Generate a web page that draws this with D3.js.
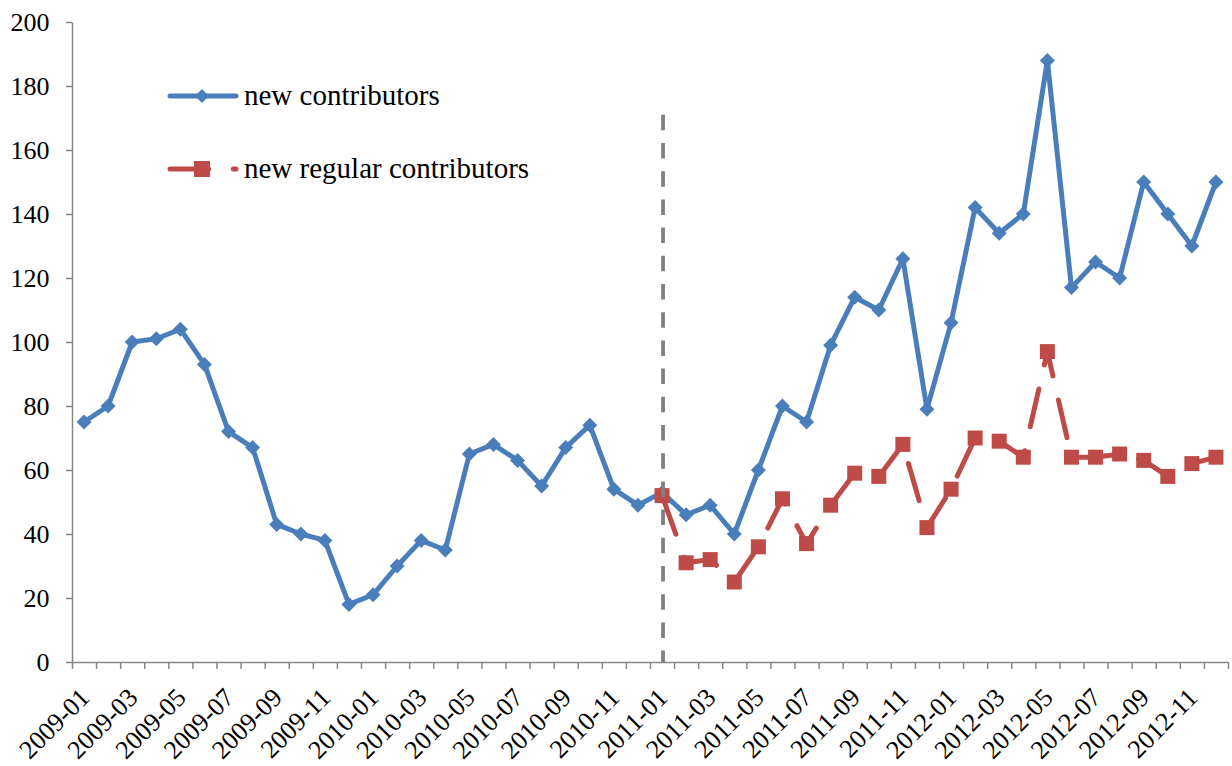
<!DOCTYPE html>
<html>
<head>
<meta charset="utf-8">
<script src="https://cdn.jsdelivr.net/npm/d3@7"></script>
<style>
  html, body { margin: 0; padding: 0; background: #ffffff; }
  svg { display: block; }
  svg text { font-family: "Liberation Serif", Tinos, "Times New Roman", "Nimbus Roman", "DejaVu Serif", serif; }
</style>
</head>
<body>
<svg id="chart" width="1232" height="766"></svg>
<script>
// Monthly categories, Jan 2009 through Dec 2012
const months = [
  "2009-01","2009-02","2009-03","2009-04","2009-05","2009-06","2009-07","2009-08","2009-09","2009-10","2009-11","2009-12",
  "2010-01","2010-02","2010-03","2010-04","2010-05","2010-06","2010-07","2010-08","2010-09","2010-10","2010-11","2010-12",
  "2011-01","2011-02","2011-03","2011-04","2011-05","2011-06","2011-07","2011-08","2011-09","2011-10","2011-11","2011-12",
  "2012-01","2012-02","2012-03","2012-04","2012-05","2012-06","2012-07","2012-08","2012-09","2012-10","2012-11","2012-12"
];

// New contributors per month (full period)
const newContributors = [
  75, 80, 100, 101, 104, 93, 72, 67, 43, 40, 38, 18,
  21, 30, 38, 35, 65, 68, 63, 55, 67, 74, 54, 49,
  53, 46, 49, 40, 60, 80, 75, 99, 114, 110, 126, 79,
  106, 142, 134, 140, 188, 117, 125, 120, 150, 140, 130, 150
];

// New regular contributors, tracked from 2011-01 onward
const regularMonths = [
  "2011-01","2011-02","2011-03","2011-04","2011-05","2011-06","2011-07","2011-08","2011-09","2011-10","2011-11","2011-12",
  "2012-01","2012-02","2012-03","2012-04","2012-05","2012-06","2012-07","2012-08","2012-09","2012-10","2012-11","2012-12"
];
const newRegularContributors = [
  52, 31, 32, 25, 36, 51, 37, 49, 59, 58, 68, 42,
  54, 70, 69, 64, 97, 64, 64, 65, 63, 58, 62, 64
];

// Axis ticks and labels
const yTicks = [0, 20, 40, 60, 80, 100, 120, 140, 160, 180, 200];
const xTickLabels = [
  "2009-01","2009-03","2009-05","2009-07","2009-09","2009-11",
  "2010-01","2010-03","2010-05","2010-07","2010-09","2010-11",
  "2011-01","2011-03","2011-05","2011-07","2011-09","2011-11",
  "2012-01","2012-03","2012-05","2012-07","2012-09","2012-11"
];

// Month for the vertical reference line and its top value
const markerMonth = "2011-01";
const markerTop = 171;

const seriesNames = ["new contributors", "new regular contributors"];

const BLUE = "#4A7EBB";
const RED = "#BE4B48";
const AXIS = "#868686";
const LONG_DASH = "38.6,24.7";

const svg = d3.select("#chart");

const plotLeft = 72, plotRight = 1228, plotTop = 22, plotBottom = 662;

const x = d3.scaleBand().domain(months).range([plotLeft, plotRight]).paddingInner(0).paddingOuter(0);
const cx = m => x(m) + x.bandwidth() / 2;
const y = d3.scaleLinear().domain([0, 200]).range([plotBottom, plotTop]);

// Y axis
const yAxis = svg.append("g")
  .attr("transform", `translate(${plotLeft},0)`)
  .call(d3.axisLeft(y).tickValues(yTicks).tickSize(6).tickPadding(16.5).tickSizeOuter(0));
yAxis.attr("font-family", null).attr("font-size", null);
yAxis.select(".domain").attr("stroke", AXIS).attr("stroke-width", 1.5);
yAxis.selectAll(".tick line").attr("stroke", AXIS).attr("stroke-width", 1.5);
yAxis.selectAll(".tick text")
  .attr("fill", "#000")
  .style("font-size", "26px");

// X axis: tick marks on category boundaries
const xb = d3.scaleLinear().domain([0, months.length]).range([plotLeft, plotRight]);
const xAxis = svg.append("g")
  .attr("transform", `translate(0,${plotBottom})`)
  .call(d3.axisBottom(xb).tickValues(d3.range(months.length + 1)).tickSize(7).tickSizeOuter(0).tickFormat(""));
xAxis.select(".domain").attr("stroke", AXIS).attr("stroke-width", 1.5);
xAxis.selectAll(".tick line").attr("stroke", AXIS).attr("stroke-width", 1.5);

// Rotated month labels, every other month
svg.append("g").selectAll("text")
  .data(xTickLabels)
  .join("text")
  .attr("transform", d => `translate(${cx(d) + 7},699) rotate(-45)`)
  .attr("text-anchor", "end")
  .attr("fill", "#000")
  .style("font-size", "26px")
  .text(d => d);

// New contributors line
const blueData = months.map((m, i) => ({ m, v: newContributors[i] }));
const line = d3.line().x(d => cx(d.m)).y(d => y(d.v));

svg.append("path")
  .datum(blueData)
  .attr("d", line)
  .attr("fill", "none")
  .attr("stroke", BLUE)
  .attr("stroke-width", 5)
  .attr("stroke-linejoin", "round")
  .attr("stroke-linecap", "round");

const diamond = (px, py, r) => `M${px},${py - r}L${px + r},${py}L${px},${py + r}L${px - r},${py}Z`;

svg.append("g").selectAll("path")
  .data(blueData)
  .join("path")
  .attr("d", d => diamond(cx(d.m), y(d.v), 7.5))
  .attr("fill", BLUE);

// New regular contributors line (long dashes running continuously along the path)
const redData = regularMonths.map((m, i) => ({ m, v: newRegularContributors[i] }));

svg.append("path")
  .datum(redData)
  .attr("d", line)
  .attr("fill", "none")
  .attr("stroke", RED)
  .attr("stroke-width", 5)
  .attr("stroke-dasharray", LONG_DASH)
  .attr("stroke-dashoffset", 61)
  .attr("stroke-linejoin", "round")
  .attr("stroke-linecap", "round");

svg.append("g").selectAll("rect")
  .data(redData)
  .join("rect")
  .attr("x", d => cx(d.m) - 7.5)
  .attr("y", d => y(d.v) - 7.5)
  .attr("width", 15)
  .attr("height", 15)
  .attr("fill", RED);

// Vertical reference line
svg.append("line")
  .attr("x1", cx(markerMonth) + 1).attr("x2", cx(markerMonth) + 1)
  .attr("y1", y(markerTop)).attr("y2", plotBottom)
  .attr("stroke", "#7F7F7F")
  .attr("stroke-width", 3.75)
  .attr("stroke-dasharray", "15.5,12.7");

// Legend
const legend = svg.append("g");
const lgY = [96, 169];

legend.append("line")
  .attr("x1", 170).attr("x2", 236).attr("y1", lgY[0]).attr("y2", lgY[0])
  .attr("stroke", BLUE).attr("stroke-width", 5).attr("stroke-linecap", "round");
legend.append("path")
  .attr("d", diamond(202, lgY[0], 7))
  .attr("fill", BLUE);

legend.append("line")
  .attr("x1", 170).attr("x2", 236).attr("y1", lgY[1]).attr("y2", lgY[1])
  .attr("stroke", RED).attr("stroke-width", 5).attr("stroke-linecap", "round")
  .attr("stroke-dasharray", LONG_DASH);
legend.append("rect")
  .attr("x", 194).attr("y", lgY[1] - 8).attr("width", 16).attr("height", 16)
  .attr("fill", RED);

legend.selectAll("text")
  .data(seriesNames)
  .join("text")
  .attr("x", 244)
  .attr("y", (d, i) => lgY[i])
  .attr("dy", "0.3em")
  .attr("fill", "#000")
  .style("font-size", "29px")
  .text(d => d);
</script>
</body>
</html>
